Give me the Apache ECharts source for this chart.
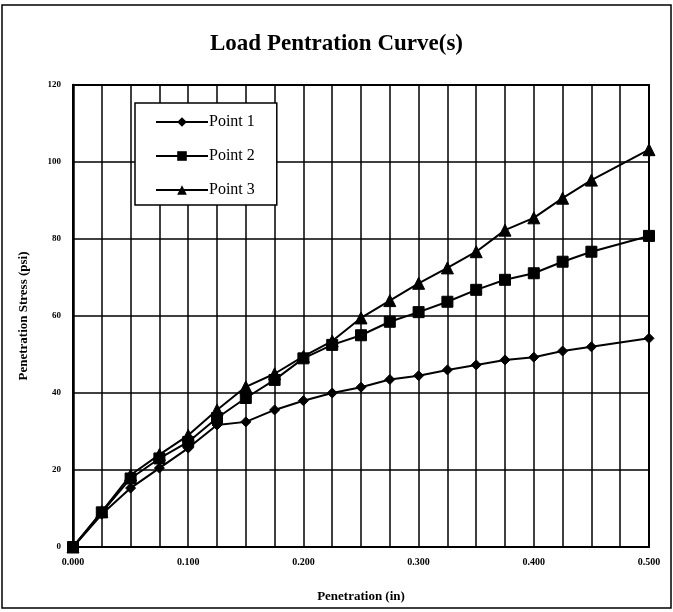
<!DOCTYPE html>
<html>
<head>
<meta charset="utf-8">
<script src="https://cdn.jsdelivr.net/npm/echarts@6/dist/echarts.min.js"></script>
<style>
  html, body { margin: 0; padding: 0; background: #fff; }
  #chart { width: 673px; height: 612px; }
</style>
</head>
<body>
<div id="chart"></div>
<script>
// Penetration depth (in) at each reading
const penetration = [0, 0.025, 0.05, 0.075, 0.1, 0.125, 0.15, 0.175, 0.2, 0.225,
                     0.25, 0.275, 0.3, 0.325, 0.35, 0.375, 0.4, 0.425, 0.45, 0.5];

// Penetration stress (psi) for each test point
const point1 = [0, 8.5, 15.3, 20.5, 25.7, 31.7, 32.5, 35.6, 38.0, 40.0,
                41.5, 43.5, 44.5, 46.0, 47.3, 48.6, 49.3, 50.9, 52.0, 54.2];
const point2 = [0, 9.0, 17.8, 23.0, 27.3, 33.5, 38.7, 43.4, 49.0, 52.5,
                55.0, 58.5, 61.0, 63.7, 66.8, 69.4, 71.1, 74.1, 76.7, 80.8];
const point3 = [0, 9.2, 18.7, 24.0, 29.0, 35.6, 41.6, 45.0, 49.5, 53.5,
                59.5, 64.0, 68.5, 72.5, 76.7, 82.3, 85.5, 90.6, 95.3, 103.2];

const seriesNames = ['Point 1', 'Point 2', 'Point 3'];
const seriesValues = [point1, point2, point3];
const seriesSymbols = ['diamond', 'rect', 'triangle'];
const seriesSymbolSizes = [10, 11, 12];

const serif = '"Liberation Serif", "DejaVu Serif", serif';

const chart = echarts.init(document.getElementById('chart'));

const series = seriesNames.map((name, i) => ({
  name: name,
  type: 'line',
  data: penetration.map((x, j) => [x, seriesValues[i][j]]),
  symbol: seriesSymbols[i],
  symbolSize: seriesSymbolSizes[i],
  showAllSymbol: true,
  lineStyle: { color: '#000', width: 2 },
  itemStyle: { color: '#000', borderColor: '#000' },
  emphasis: { disabled: true },
  z: 3 + i
}));

chart.setOption({
  animation: false,
  backgroundColor: '#fff',
  title: {
    text: 'Load Pentration Curve(s)',
    left: 'center',
    top: 28,
    textStyle: { fontFamily: serif, fontWeight: 'bold', fontSize: 23, color: '#000' }
  },
  legend: {
    data: seriesNames,
    orient: 'vertical',
    left: 135,
    top: 103,
    padding: [11, 22, 7, 20],
    itemGap: 18,
    itemWidth: 52,
    itemHeight: 12,
    backgroundColor: '#fff',
    borderColor: '#000',
    borderWidth: 1.5,
    textStyle: { fontFamily: serif, fontSize: 16, color: '#000', padding: [0, 0, 0, -4] }
  },
  grid: { left: 73, right: 24, top: 85, bottom: 65, containLabel: false },
  xAxis: {
    type: 'value',
    min: 0,
    max: 0.5,
    interval: 0.025,
    name: 'Penetration (in)',
    nameLocation: 'middle',
    nameGap: 43,
    nameTextStyle: { fontFamily: serif, fontWeight: 'bold', fontSize: 13, color: '#000' },
    axisLine: { show: true, onZero: false, lineStyle: { color: '#000', width: 2 } },
    axisTick: { show: false },
    splitLine: { show: true, lineStyle: { color: '#000', width: 1.5 } },
    axisLabel: {
      fontFamily: serif,
      fontWeight: 'bold',
      fontSize: 10,
      color: '#000',
      margin: 10,
      showMaxLabel: true,
      formatter: v => {
        const k = Math.round(v * 40);
        return k % 4 === 0 ? (k / 40).toFixed(3) : '';
      }
    }
  },
  yAxis: {
    type: 'value',
    min: 0,
    max: 120,
    interval: 20,
    name: 'Penetration Stress (psi)',
    nameLocation: 'middle',
    nameGap: 43,
    nameTextStyle: { fontFamily: serif, fontWeight: 'bold', fontSize: 13, color: '#000' },
    axisLine: { show: true, lineStyle: { color: '#000', width: 2.5 } },
    axisTick: { show: false },
    splitLine: { show: true, lineStyle: { color: '#000', width: 1.5 } },
    axisLabel: { fontFamily: serif, fontWeight: 'bold', fontSize: 9, color: '#000', margin: 12 }
  },
  graphic: [
    {
      type: 'rect',
      shape: { x: 73, y: 85, width: 576, height: 462 },
      style: { fill: 'none', stroke: '#000', lineWidth: 2 },
      silent: true,
      z: 2
    },
    {
      type: 'rect',
      shape: { x: 2, y: 5, width: 669, height: 603 },
      style: { fill: 'none', stroke: '#000', lineWidth: 1.5 },
      silent: true,
      z: 1
    }
  ],
  series: series
});
</script>
</body>
</html>
